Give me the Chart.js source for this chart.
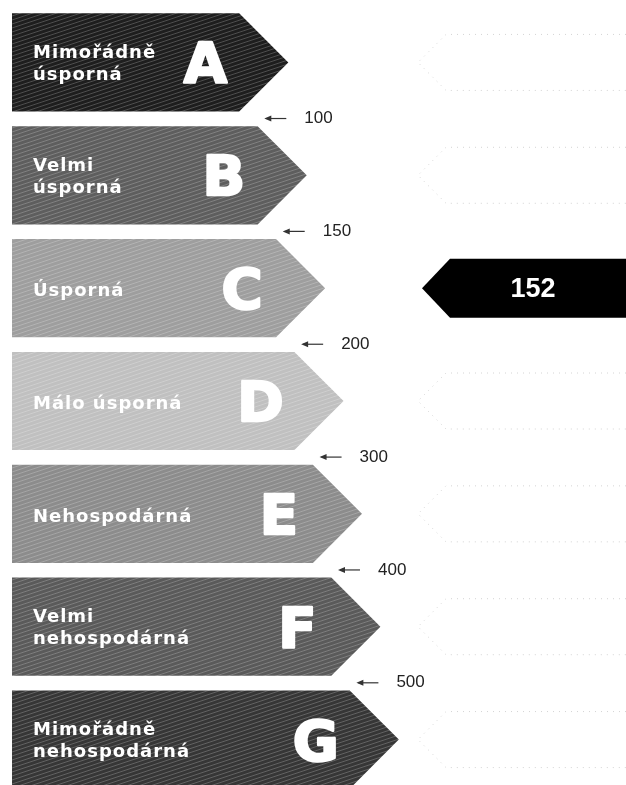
<!DOCTYPE html>
<html>
<head>
<meta charset="utf-8">
<script src="https://cdn.jsdelivr.net/npm/chart.js@4"></script>
<style>
  html, body { margin: 0; padding: 0; background: #fff; overflow: hidden; }
  #wrap { width: 626px; height: 785px; overflow: hidden; position: relative; }
</style>
</head>
<body>
<div id="wrap"><canvas id="label" width="626" height="796"></canvas></div>
<script>
// energy classes, top (best) to bottom (worst)
const classes = ['A', 'B', 'C', 'D', 'E', 'F', 'G'];
const classNames = [
  ['Mimořádně', 'úsporná'],
  ['Velmi', 'úsporná'],
  ['Úsporná'],
  ['Málo úsporná'],
  ['Nehospodárná'],
  ['Velmi', 'nehospodárná'],
  ['Mimořádně', 'nehospodárná']
];
// relative arrow length (percent of width)
const barLengths = [45, 48, 51, 54, 57, 60, 63];
// class limits written under each arrow
const limits = [100, 150, 200, 300, 400, 500];
const rating = 152;

const barColors = ['#1e1e1e', '#5e5e5e', '#9e9e9e', '#c0c0c0', '#8c8c8c', '#5a5a5a', '#363636'];

function hatch(ctx, color) {
  const c = document.createElement('canvas');
  c.width = 12; c.height = 4;
  const g = c.getContext('2d');
  g.fillStyle = color;
  g.fillRect(0, 0, 12, 4);
  g.strokeStyle = 'rgba(255,255,255,0.22)';
  g.lineWidth = 1;
  [-4, 0, 4].forEach(d => {
    g.beginPath();
    g.moveTo(-12, 8 + d);
    g.lineTo(24, -4 + d);
    g.stroke();
  });
  return ctx.createPattern(c, 'repeat');
}

function ratingClass(v) {
  for (let i = 0; i < limits.length; i++) {
    if (v <= limits[i]) return i;
  }
  return classes.length - 1;
}

const labelPlugin = {
  id: 'energyLabel',
  afterDatasetsDraw(chart) {
    const ctx = chart.ctx;
    const meta = chart.getDatasetMeta(0);
    const right = chart.chartArea.right;
    const hit = ratingClass(rating);

    meta.data.forEach((bar, i) => {
      const half = bar.height / 2;
      const top = bar.y - half, bottom = bar.y + half;
      ctx.save();

      // arrow body
      ctx.beginPath();
      ctx.moveTo(bar.base, top);
      ctx.lineTo(bar.x - half, top);
      ctx.lineTo(bar.x, bar.y);
      ctx.lineTo(bar.x - half, bottom);
      ctx.lineTo(bar.base, bottom);
      ctx.closePath();
      ctx.fillStyle = hatch(ctx, barColors[i]);
      ctx.fill();

      // class name
      ctx.fillStyle = '#fff';
      ctx.font = 'bold 18px "DejaVu Sans"';
      ctx.letterSpacing = '1px';
      ctx.textAlign = 'left';
      ctx.textBaseline = 'middle';
      const lines = classNames[i];
      if (lines.length === 2) {
        ctx.fillText(lines[0], bar.base + 21, bar.y - 9);
        ctx.fillText(lines[1], bar.base + 21, bar.y + 13);
      } else {
        ctx.fillText(lines[0], bar.base + 21, bar.y + 3);
      }

      // big letter
      ctx.letterSpacing = '0px';
      ctx.font = 'bold 56px "DejaVu Sans"';
      ctx.textAlign = 'center';
      ctx.textBaseline = 'alphabetic';
      ctx.strokeStyle = '#fff';
      ctx.lineWidth = 2.5;
      ctx.lineJoin = 'round';
      ctx.strokeText(classes[i], bar.x - 83, bar.y + 20);
      ctx.fillText(classes[i], bar.x - 83, bar.y + 20);

      // limit marker under the arrow
      if (i < limits.length) {
        const ly = bottom + 7;
        ctx.strokeStyle = '#333';
        ctx.fillStyle = '#333';
        ctx.lineWidth = 1.2;
        ctx.beginPath();
        ctx.moveTo(bar.x - 22, ly);
        ctx.lineTo(bar.x - 2, ly);
        ctx.stroke();
        ctx.beginPath();
        ctx.moveTo(bar.x - 24, ly);
        ctx.lineTo(bar.x - 17, ly - 3);
        ctx.lineTo(bar.x - 17, ly + 3);
        ctx.closePath();
        ctx.fill();
        ctx.fillStyle = '#222';
        ctx.font = '17px "Liberation Sans"';
        ctx.textAlign = 'left';
        ctx.textBaseline = 'middle';
        ctx.fillText(String(limits[i]), bar.x + 16, ly);
      }

      // right column: pointer for the rated class, faint outline elsewhere
      const ph = i === hit ? 59 : 56;
      const pd = 28;
      const px = i === hit ? right - 204 : right - 208;
      ctx.beginPath();
      ctx.moveTo(right, bar.y - ph / 2);
      ctx.lineTo(px + pd, bar.y - ph / 2);
      ctx.lineTo(px, bar.y);
      ctx.lineTo(px + pd, bar.y + ph / 2);
      ctx.lineTo(right, bar.y + ph / 2);
      if (i === hit) {
        ctx.closePath();
        ctx.fillStyle = '#000';
        ctx.fill();
        ctx.fillStyle = '#fff';
        ctx.font = 'bold 27px "Liberation Sans"';
        ctx.textAlign = 'center';
        ctx.textBaseline = 'middle';
        ctx.fillText(String(rating), (px + pd + right) / 2 - 5, bar.y + 1);
      } else {
        ctx.strokeStyle = '#d4d4d4';
        ctx.lineWidth = 1;
        ctx.setLineDash([1, 5]);
        ctx.stroke();
      }
      ctx.restore();
    });
  }
};

const labelConfig = {
  type: 'bar',
  data: {
    labels: classes,
    datasets: [{
      data: barLengths,
      backgroundColor: 'rgba(0,0,0,0)',
      barPercentage: 0.87,
      categoryPercentage: 1
    }]
  },
  options: {
    indexAxis: 'y',
    responsive: false,
    animation: false,
    layout: { padding: { left: 12, top: 6, right: 0, bottom: 0 } },
    plugins: {
      legend: { display: false },
      tooltip: { enabled: false }
    },
    scales: {
      x: { display: false, min: 0, max: 100 },
      y: { display: false }
    }
  },
  plugins: [labelPlugin]
};

window.onload = function() {
  new Chart(document.getElementById('label'), labelConfig);
};
</script>
</body>
</html>
